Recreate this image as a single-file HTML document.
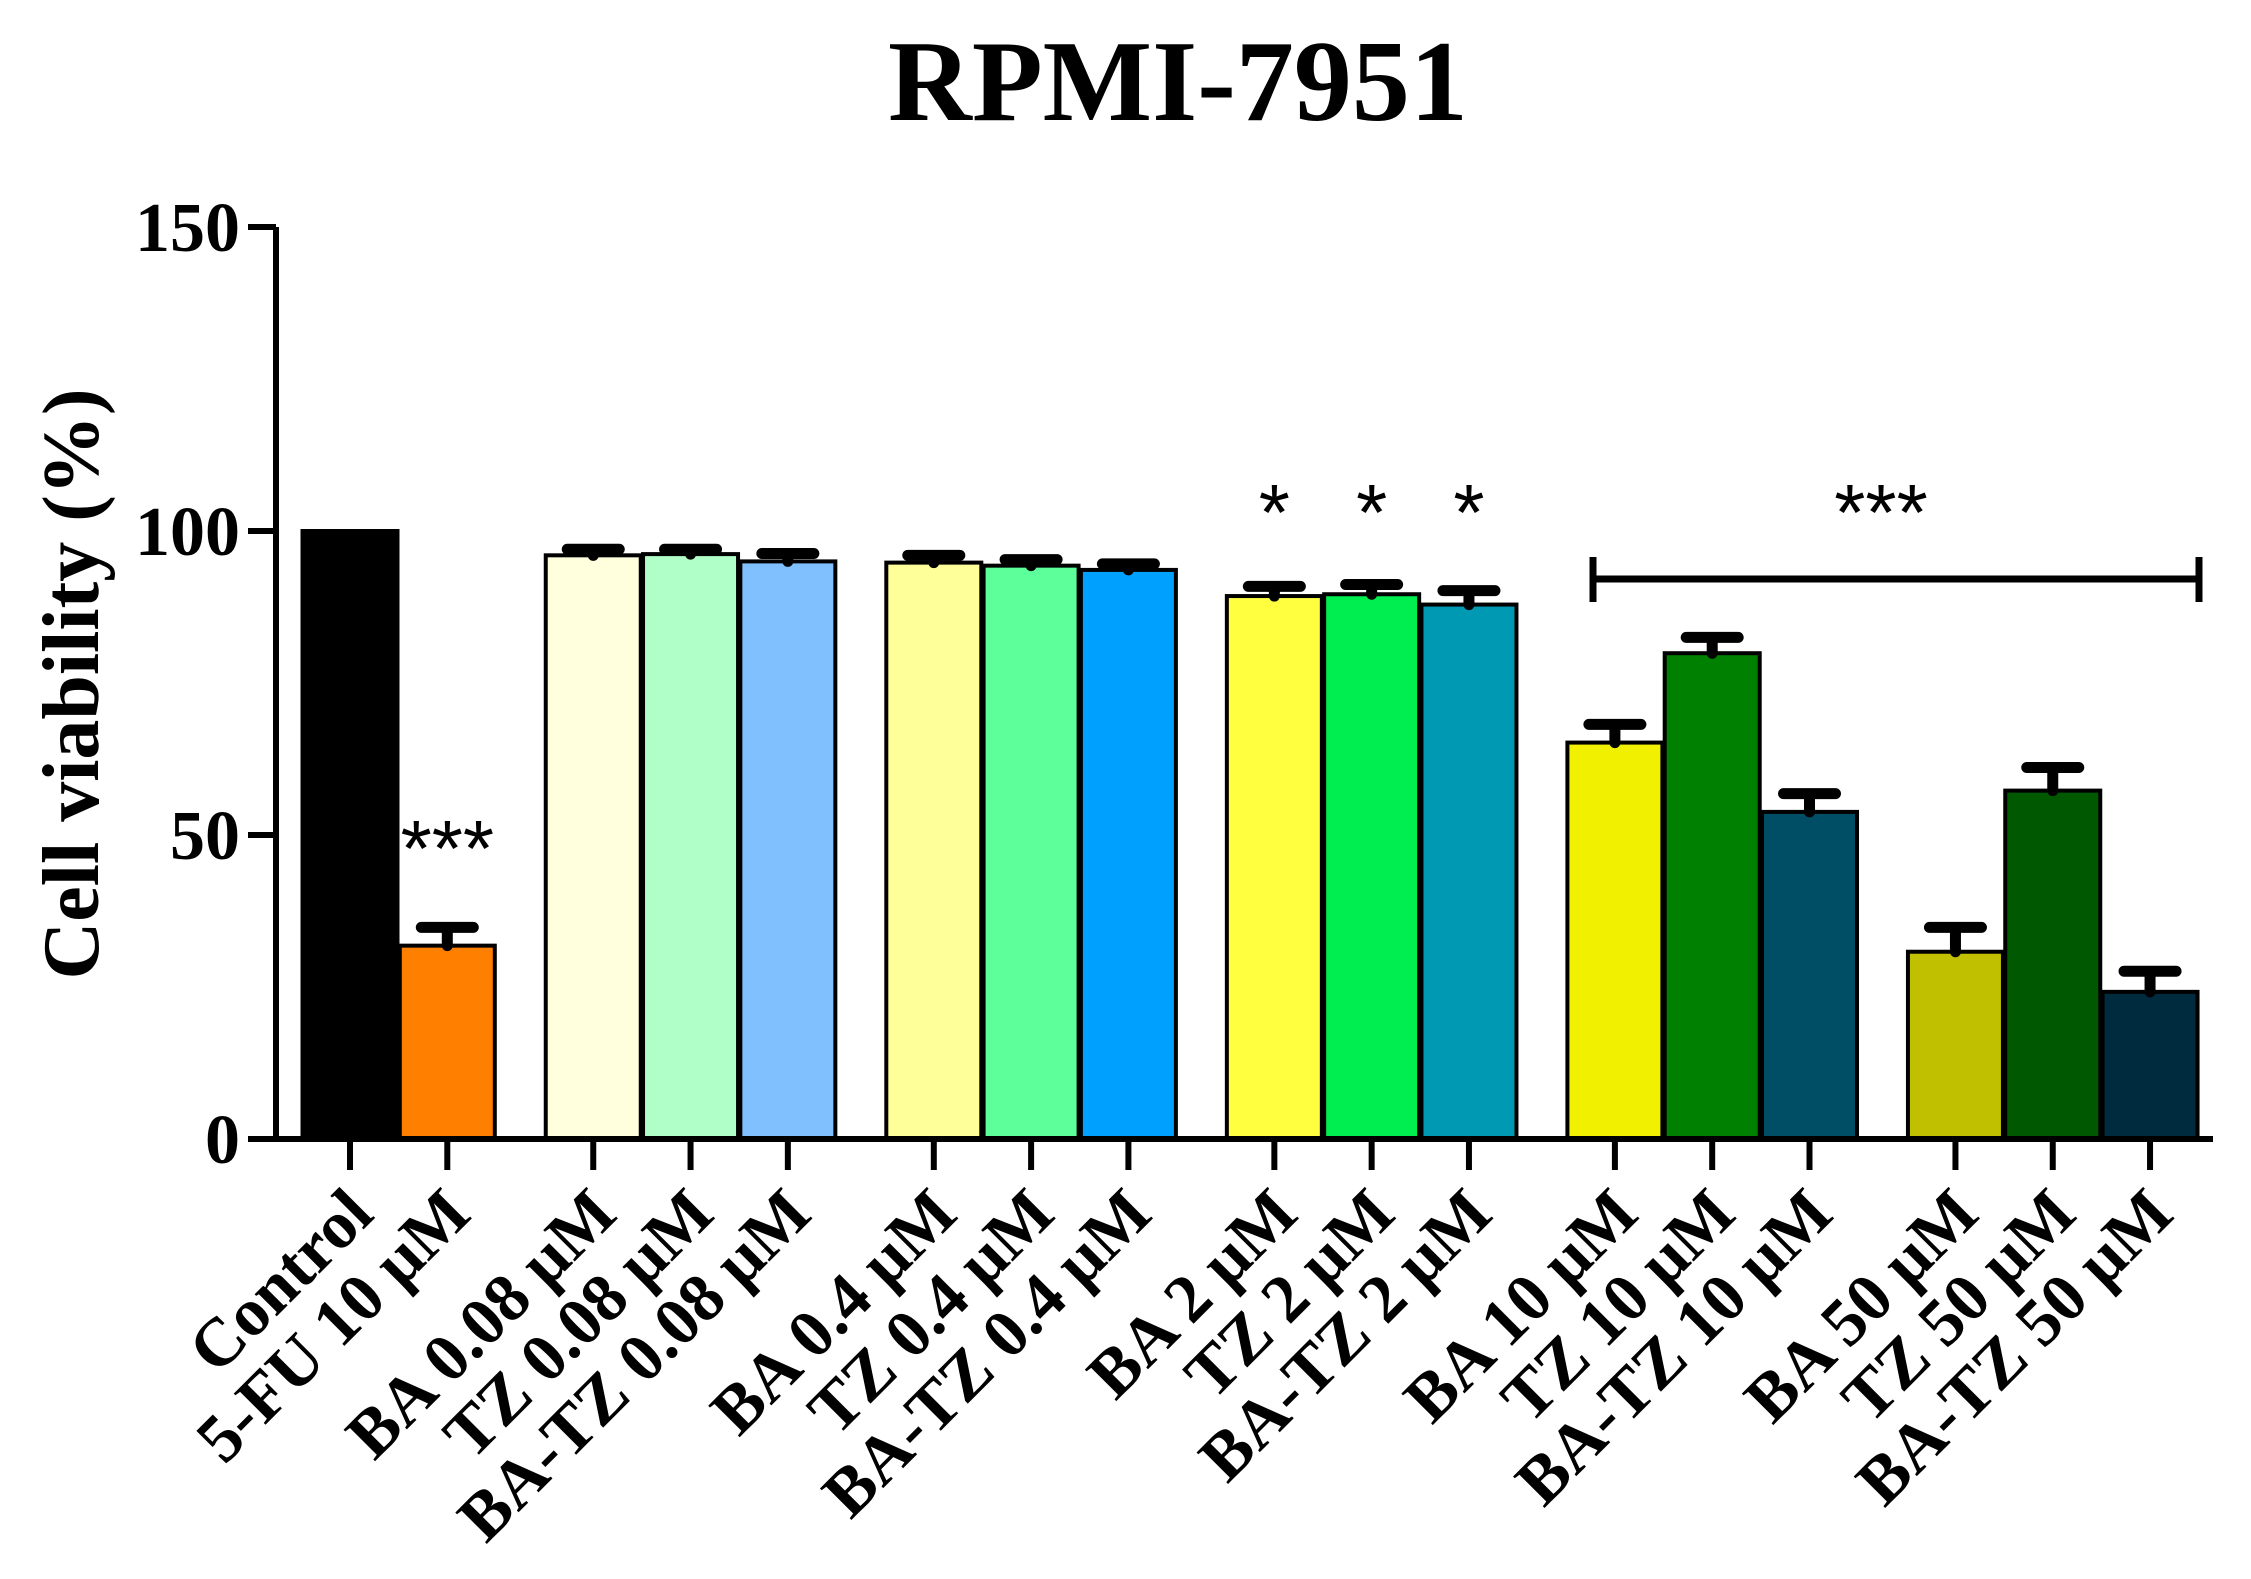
<!DOCTYPE html>
<html><head><meta charset="utf-8"><style>
html,body{margin:0;padding:0;background:#fff;}
svg{display:block;font-family:"Liberation Serif",serif;font-weight:bold;}
</style></head><body>
<svg id="chart" width="2251" height="1579" viewBox="0 0 2251 1579" xmlns="http://www.w3.org/2000/svg">
<text x="1178" y="120" font-size="116" text-anchor="middle">RPMI-7951</text>
<text transform="translate(98,684) rotate(-90)" font-size="80" text-anchor="middle">Cell viability (%)</text>
<g id="bars"></g>
<g id="axes"></g>
<g id="sig"></g>
</svg>
<script>
const categories=["Control","5-FU 10 μM","BA 0.08 μM","TZ 0.08 μM","BA-TZ 0.08 μM","BA 0.4 μM","TZ 0.4 μM","BA-TZ 0.4 μM","BA 2 μM","TZ 2 μM","BA-TZ 2 μM","BA 10 μM","TZ 10 μM","BA-TZ 10 μM","BA 50 μM","TZ 50 μM","BA-TZ 50 μM"];
const groups=[0,0,1,1,1,2,2,2,3,3,3,4,4,4,5,5,5];
const values=[100,31.8,96.0,96.2,95.0,94.8,94.3,93.6,89.3,89.6,87.9,65.2,79.9,53.8,30.8,57.3,24.2];
const errors=[0,3,1,0.8,1.3,1.2,1.0,1.0,1.6,1.6,2.3,3,2.6,3,4,3.8,3.4];
const colors=["#000000","#ff8000","#ffffdd","#b0ffc8","#80c0ff","#ffff99","#5cff9a","#00a0ff","#ffff40","#00ee50","#0099b3","#f0f000","#008000","#004d66","#c0c000","#005800","#002a3d"];
const yTicks=[0,50,100,150];
const sigLabels=["","***","","","","","","","*","*","*","","","","","",""];

const NS="http://www.w3.org/2000/svg";
const y0=1139, pxPerUnit=(1139-227)/150;
const yScale=v=>y0-v*pxPerUnit;
const xScale=i=>350+97.3*(i+0.5*groups[i]);
const barW=95;
function mk(tag,attrs,parent){const e=document.createElementNS(NS,tag);for(const k in attrs)e.setAttribute(k,attrs[k]);parent.appendChild(e);return e;}
const bars=document.getElementById('bars'),axes=document.getElementById('axes'),sig=document.getElementById('sig');

values.forEach((v,i)=>{
  const cx=xScale(i);
  const r=mk('rect',{x:cx-barW/2,y:yScale(v),width:barW,height:y0-yScale(v),fill:colors[i],stroke:'#000','stroke-width':4},bars);
  
  
  if(errors[i]>0){
    const e=mk('path',{d:`M${cx},${yScale(v)} V${yScale(v+errors[i])} M${cx-26},${yScale(v+errors[i])} H${cx+26}`,stroke:'#000','stroke-width':11,'stroke-linecap':'round',fill:'none'},bars);
    
    
  }
  const t=mk('path',{d:`M${cx},${y0} V${y0+31}`,stroke:'#000','stroke-width':6},axes);
  
  
  const lx=cx+26, ly=y0+78;
  const l=mk('text',{x:lx,y:ly,'font-size':68,'text-anchor':'end',transform:`rotate(-45 ${lx} ${ly})`},axes);
  l.textContent=categories[i];
  
  
  if(sigLabels[i]){
    const s=mk('text',{x:cx,y:sigLabels[i]==="*"?540:876,'font-size':80,'text-anchor':'middle','font-family':'"Liberation Sans",sans-serif','font-weight':'normal'},sig);
    s.textContent=sigLabels[i];
    
    
  }
});
const ya=mk('path',{d:`M276,${yScale(150)} V${y0+3} M248,${y0} H2213`,stroke:'#000','stroke-width':6,fill:'none'},axes);


yTicks.forEach(v=>{
  const t=mk('path',{d:`M248,${yScale(v)} H276`,stroke:'#000','stroke-width':6},axes);
  
  
  const l=mk('text',{x:240,y:yScale(v)+24,'font-size':70,'text-anchor':'end'},axes);
  l.textContent=v;
  
  
});
const br=mk('path',{d:'M1593,579 H2199 M1593,557 V602 M2199,557 V602',stroke:'#000','stroke-width':7,fill:'none'},sig);


const bs=mk('text',{x:1881,y:540,'font-size':80,'text-anchor':'middle','font-family':'"Liberation Sans",sans-serif','font-weight':'normal'},sig);
bs.textContent='***';


</script>
</body></html>
